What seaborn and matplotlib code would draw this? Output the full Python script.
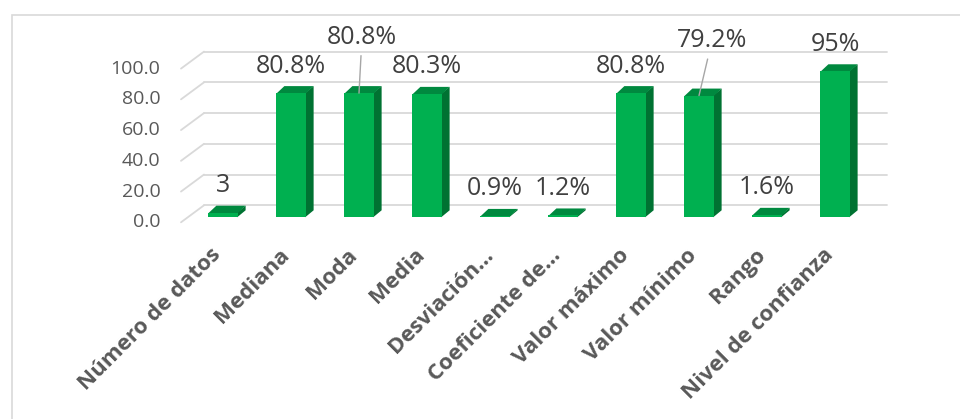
import matplotlib
matplotlib.use("Agg")
import matplotlib.pyplot as plt
import matplotlib.transforms as mtransforms
from matplotlib.patches import Polygon, Rectangle
from matplotlib.lines import Line2D
import pandas as pd
import seaborn as sns

# ---- data -------------------------------------------------------------
categorias = ["Número de datos", "Mediana", "Moda", "Media", "Desviación…",
              "Coeficiente de…", "Valor máximo", "Valor mínimo", "Rango",
              "Nivel de confianza"]
valores = [3, 80.8, 80.8, 80.3, 0.9, 1.2, 80.8, 79.2, 1.6, 95]
etiquetas = ["3", "80.8%", "80.8%", "80.3%", "0.9%", "1.2%", "80.8%",
             "79.2%", "1.6%", "95%"]
ticks_y = [0, 20, 40, 60, 80, 100]
ticks_y_txt = ["0.0", "20.0", "40.0", "60.0", "80.0", "100.0"]

# ---- style ------------------------------------------------------------
VERDE = "#00B050"
VERDE_LADO = "#007232"
VERDE_TAPA = "#00893F"
GRIS_REJILLA = "#D9D9D9"
GRIS_EJE = "#595959"
GRIS_ETIQ = "#404040"

sns.set_theme(style="white")
plt.rcParams["font.family"] = ["Open Sans", "DejaVu Sans"]

W, H, DPI = 960, 419, 100
fig = plt.figure(figsize=(W / DPI, H / DPI), dpi=DPI)

# plot area: one category every 68 px, value axis 0..100 over ~154 px
PASO = 68.0
X_CENTRO0 = 223.0
Y_CERO = 217.3
ALTO_100 = 153.7
XMIN, XMAX = -0.81, 9.9
x0_px = X_CENTRO0 + XMIN * PASO
x1_px = X_CENTRO0 + XMAX * PASO
ax = fig.add_axes([x0_px / W, (H - Y_CERO) / H, (x1_px - x0_px) / W, ALTO_100 / H])

df = pd.DataFrame({"categoria": categorias, "valor": valores})
sns.barplot(data=df, x="categoria", y="valor", order=categorias, color=VERDE,
            saturation=1, width=0.43, errorbar=None, linewidth=0, ax=ax,
            zorder=3)
ax.set_xlim(XMIN, XMAX)
ax.set_ylim(0, 100)
ax.set_xlabel("")
ax.set_ylabel("")
for s in ax.spines.values():
    s.set_visible(False)
ax.patch.set_alpha(0)

# ---- 3-D look: back wall, floor edge and bar depth ----------------------
T = ax.transData
FONDO = (15, 12)     # back wall shift (px)
FRENTE = (-8, -5)    # front floor edge shift (px)
PROF = (8, 7)        # bar depth (px)

for v in ticks_y:
    xa, ya = T.transform((-0.5, v))
    xb, _ = T.transform((9.55, v))
    fig.add_artist(Line2D([xa + FONDO[0], xb + FONDO[0]], [ya + FONDO[1]] * 2,
                          transform=None, color=GRIS_REJILLA, lw=1.3, zorder=-2))
    fig.add_artist(Line2D([xa + FRENTE[0], xa + FONDO[0]],
                          [ya + FRENTE[1], ya + FONDO[1]],
                          transform=None, color=GRIS_REJILLA, lw=1.3, zorder=-2))

for p in ax.patches:
    (xl, yb), (xr, yt) = T.transform([(p.get_x(), p.get_y()),
                                      (p.get_x() + p.get_width(), p.get_y() + p.get_height())])
    dx, dy = PROF
    lado = Polygon([(xr - 0.5, yb), (xr + dx, yb + dy), (xr + dx, yt + dy), (xr - 0.5, yt)],
                   closed=True, transform=None, facecolor=VERDE_LADO,
                   edgecolor="none", zorder=-1)
    tapa = Polygon([(xl, yt - 0.5), (xl + dx, yt + dy), (xr + dx, yt + dy), (xr, yt - 0.5)],
                   closed=True, transform=None, facecolor=VERDE_TAPA,
                   edgecolor="none", zorder=-1)
    fig.add_artist(lado)
    fig.add_artist(tapa)

# ---- data labels ---------------------------------------------------------
desplaz = {2: (3, 56), 7: (13, 55)}
for i, (v, txt) in enumerate(zip(valores, etiquetas)):
    if i in desplaz:
        ax.annotate(txt, xy=(i, v), xytext=desplaz[i], textcoords="offset pixels",
                    ha="center", va="center", fontsize=18, color=GRIS_ETIQ,
                    annotation_clip=False,
                    arrowprops=dict(arrowstyle="-", color="#A6A6A6", lw=1,
                                    shrinkA=2, shrinkB=0))
    else:
        ax.annotate(txt, xy=(i, v), xytext=(0, 27), textcoords="offset pixels",
                    ha="center", va="center", fontsize=18, color=GRIS_ETIQ,
                    annotation_clip=False)

# ---- axes text -----------------------------------------------------------
ax.set_yticks(ticks_y, ticks_y_txt)
ax.tick_params(axis="y", length=0, pad=5.5, labelsize=14, labelcolor=GRIS_EJE)
ax.set_xticks(range(len(categorias)), categorias, rotation=45, ha="right",
              va="center", rotation_mode="anchor", fontweight="bold")
ax.tick_params(axis="x", length=0, pad=25, labelsize=16, labelcolor=GRIS_EJE)
for lbl in ax.get_yticklabels():
    lbl.set_transform(lbl.get_transform() +
                      mtransforms.ScaledTranslation(0, -3 / DPI, fig.dpi_scale_trans))
for lbl in ax.get_xticklabels():
    lbl.set_transform(lbl.get_transform() +
                      mtransforms.ScaledTranslation(-5 / DPI, 0, fig.dpi_scale_trans))

# chart frame
fig.add_artist(Rectangle((12 / W, -0.05), 1.2, (H - 15) / H + 0.05,
                         transform=fig.transFigure, fill=False,
                         edgecolor=GRIS_REJILLA, lw=1.2, zorder=0))

fig.savefig("out.png", dpi=DPI)
